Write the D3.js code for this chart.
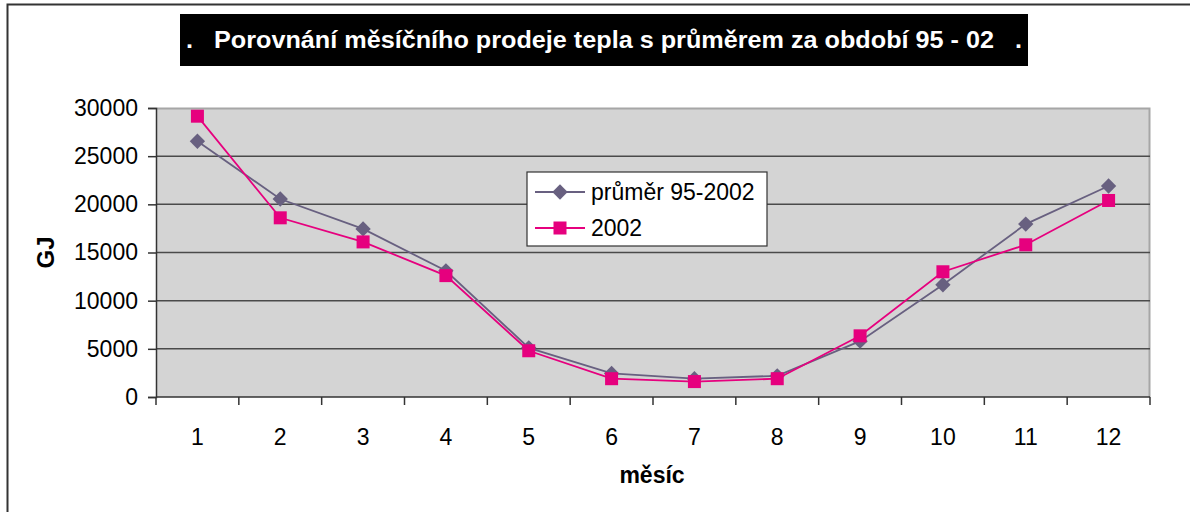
<!DOCTYPE html>
<html>
<head>
<meta charset="utf-8">
<script src="https://cdn.jsdelivr.net/npm/d3@7"></script>
<style>
  body { margin: 0; background: #fff; }
  svg { display: block; font-family: "Liberation Sans", Arial, sans-serif; }
</style>
</head>
<body>
<div id="chart"></div>
<script>
'use strict';
// data
var months = [1, 2, 3, 4, 5, 6, 7, 8, 9, 10, 11, 12];
var avgValues = [26550, 20550, 17450, 13100, 5100, 2450, 1900, 2200, 5800, 11650, 17950, 21900];
var y2002Values = [29150, 18600, 16100, 12600, 4800, 1900, 1600, 1900, 6350, 13000, 15800, 20400];
var yTicks = [0, 5000, 10000, 15000, 20000, 25000, 30000];
var seriesNames = ["průměr 95-2002", "2002"];

var W = 1190, H = 512;
var margin = { top: 108, right: 40, bottom: 115, left: 156 },
    width = W - margin.left - margin.right,
    height = H - margin.top - margin.bottom;

var svg = d3.select("#chart").append("svg")
    .attr("width", W)
    .attr("height", H);

// outer frame (top and left edges visible)
svg.append("path")
    .attr("d", "M7.5,512 L7.5,4.5 L1190,4.5")
    .attr("fill", "none")
    .attr("stroke", "#333")
    .attr("stroke-width", 2);

// title box
svg.append("rect")
    .attr("x", 180).attr("y", 14)
    .attr("width", 848).attr("height", 52)
    .attr("fill", "#000");
svg.append("text")
    .attr("x", 604).attr("y", 48)
    .attr("text-anchor", "middle")
    .attr("fill", "#fff")
    .attr("font-weight", "bold")
    .attr("font-size", 23)
    .attr("textLength", 836)
    .attr("lengthAdjust", "spacingAndGlyphs")
    .style("white-space", "pre")
    .text(".   Porovnání měsíčního prodeje tepla s průměrem za období 95 - 02   .");

var g = svg.append("g")
    .attr("transform", "translate(" + margin.left + "," + margin.top + ")");

var x = d3.scaleBand()
    .domain(months)
    .range([0, width]);
var y = d3.scaleLinear()
    .domain([0, 30000])
    .range([height, 0]);

// plot background
g.append("rect")
    .attr("width", width)
    .attr("height", height)
    .attr("fill", "#d4d4d4");
g.append("path")
    .attr("d", "M0,0.5 H" + (width - 0.5) + " V" + height)
    .attr("fill", "none")
    .attr("stroke", "#a6a6a6")
    .attr("stroke-width", 2);

// gridlines
g.selectAll(".grid")
    .data(yTicks.filter(function (d) { return d > 0 && d < 30000; }))
    .enter().append("line")
    .attr("class", "grid")
    .attr("x1", 0).attr("x2", width)
    .attr("y1", function (d) { return y(d); })
    .attr("y2", function (d) { return y(d); })
    .attr("stroke", "#4a4a4a")
    .attr("stroke-width", 1.5);

// y axis
var yAxis = g.append("g")
    .call(d3.axisLeft(y).tickValues(yTicks).tickSize(8).tickPadding(10).tickFormat(d3.format("d")));
yAxis.select(".domain").attr("stroke", "#333").attr("stroke-width", 1.5);
yAxis.selectAll(".tick line").attr("stroke", "#333").attr("stroke-width", 1.5);
yAxis.selectAll("text").attr("font-size", 23).attr("fill", "#000")
    .attr("font-family", "Liberation Sans, Arial, sans-serif");

// x axis, ticks on band edges
var xAxis = g.append("g")
    .attr("transform", "translate(0," + height + ")");
xAxis.append("line")
    .attr("x1", 0).attr("x2", width)
    .attr("stroke", "#333").attr("stroke-width", 1.5);
xAxis.selectAll(".edge")
    .data(months.concat([13]))
    .enter().append("line")
    .attr("class", "edge")
    .attr("x1", function (d) { return d <= 12 ? x(d) : width; })
    .attr("x2", function (d) { return d <= 12 ? x(d) : width; })
    .attr("y1", 0).attr("y2", 8)
    .attr("stroke", "#333").attr("stroke-width", 1.5);
xAxis.selectAll(".lbl")
    .data(months)
    .enter().append("text")
    .attr("class", "lbl")
    .attr("x", function (d) { return x(d) + x.bandwidth() / 2; })
    .attr("y", 48)
    .attr("text-anchor", "middle")
    .attr("font-size", 23)
    .text(function (d) { return d; });

// axis titles
svg.append("text")
    .attr("transform", "translate(54," + (margin.top + y(15000)) + ") rotate(-90)")
    .attr("text-anchor", "middle")
    .attr("font-weight", "bold")
    .attr("font-size", 24)
    .text("GJ");
svg.append("text")
    .attr("x", margin.left + width / 2 - 1).attr("y", 483)
    .attr("text-anchor", "middle")
    .attr("font-weight", "bold")
    .attr("font-size", 23)
    .text("měsíc");

var cx = function (d, i) { return x(months[i]) + x.bandwidth() / 2; };
var line = d3.line()
    .x(function (d, i) { return cx(d, i); })
    .y(function (d) { return y(d); });

var colAvg = "#686080", col2002 = "#e6007e";
var diamond = d3.symbol().type(d3.symbolDiamond2).size(150);

// avg series
g.append("path").datum(avgValues)
    .attr("fill", "none").attr("stroke", colAvg).attr("stroke-width", 1.8)
    .attr("d", line);
g.selectAll(".avg")
    .data(avgValues)
    .enter().append("path")
    .attr("class", "avg")
    .attr("transform", function (d, i) { return "translate(" + cx(d, i) + "," + y(d) + ")"; })
    .attr("d", diamond)
    .attr("fill", colAvg);

// 2002 series
g.append("path").datum(y2002Values)
    .attr("fill", "none").attr("stroke", col2002).attr("stroke-width", 1.8)
    .attr("d", line);
g.selectAll(".y2002")
    .data(y2002Values)
    .enter().append("rect")
    .attr("class", "y2002")
    .attr("x", function (d, i) { return cx(d, i) - 6.5; })
    .attr("y", function (d) { return y(d) - 6.5; })
    .attr("width", 13).attr("height", 13)
    .attr("fill", col2002);

// legend
var leg = svg.append("g").attr("transform", "translate(527,172)");
leg.append("rect")
    .attr("width", 240).attr("height", 74)
    .attr("fill", "#fff").attr("stroke", "#333").attr("stroke-width", 1.2);
[colAvg, col2002].forEach(function (c, i) {
    var ly = 20 + i * 36;
    leg.append("line")
        .attr("x1", 8).attr("x2", 58).attr("y1", ly).attr("y2", ly)
        .attr("stroke", c).attr("stroke-width", 1.8);
    if (i === 0) {
        leg.append("path")
            .attr("transform", "translate(33," + ly + ")")
            .attr("d", diamond).attr("fill", c);
    } else {
        leg.append("rect")
            .attr("x", 26.5).attr("y", ly - 6.5)
            .attr("width", 13).attr("height", 13).attr("fill", c);
    }
    leg.append("text")
        .attr("x", 64).attr("y", ly + 8)
        .attr("font-size", 23)
        .text(seriesNames[i]);
});
</script>
</body>
</html>
